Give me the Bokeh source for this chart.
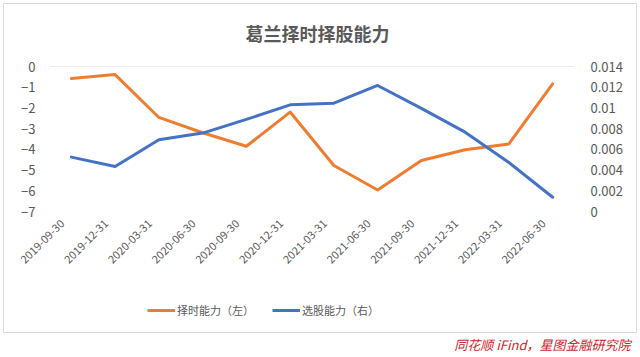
from bokeh.plotting import figure
from bokeh.layouts import column
from bokeh.models import (Range1d, LinearAxis, FixedTicker, CustomJSTickFormatter, Span,
                          Legend, LegendItem, Label)
from bokeh.embed import file_html
from bokeh.resources import INLINE
import math

title_text = "葛兰择时择股能力"
source_text = "同花顺 iFind，星图金融研究院"
categories = ["2019-09-30", "2019-12-31", "2020-03-31", "2020-06-30", "2020-09-30", "2020-12-31",
              "2021-03-31", "2021-06-30", "2021-09-30", "2021-12-31", "2022-03-31", "2022-06-30"]
timing = [-0.58, -0.39, -2.46, -3.2, -3.85, -2.2, -4.78, -5.96, -4.54, -4.02, -3.74, -0.84]
stock = [0.00525, 0.00435, 0.00693, 0.00757, 0.00889, 0.0103, 0.01046, 0.01217, 0.00995,
         0.00766, 0.00473, 0.00138]
left_ticks = [-7, -6, -5, -4, -3, -2, -1, 0]
right_ticks = [0, 0.002, 0.004, 0.006, 0.008, 0.01, 0.012, 0.014]
name_timing = "择时能力（左）"
name_stock = "选股能力（右）"

ORANGE = "#ED7D31"
BLUE = "#4472C4"
GRAY = "#595959"
CJK = "Noto Sans CJK SC"

W = 640
H_TITLE, H_MAIN, H_LEG, H_SRC = 56, 234, 46, 21
FL, FR = 49, 574
FT, FB = 10, 155          # frame top / bottom inside the main figure
n = len(categories)
xs = [i + 0.5 for i in range(n)]  # centre of each category slot
unit_px = (FR - FL) / n
shift = 9 / unit_px


def strip(h, x0=0, x1=W):
    f = figure(width=W, height=h, x_range=Range1d(x0, x1), y_range=Range1d(0, h),
               output_backend="svg", toolbar_location=None, x_axis_location=None,
               y_axis_location=None, min_border=0)
    f.outline_line_color = None
    f.xgrid.visible = False
    f.ygrid.visible = False
    f.background_fill_alpha = 0
    f.border_fill_alpha = 0
    return f


# ---- title strip (its frame is aligned with the main chart's frame by the column)
ft = strip(H_TITLE, FL, FR)
ft.add_layout(Label(x=317, y=H_TITLE - 32, text=title_text, text_font=CJK, text_font_size="18px",
                    text_font_style="bold", text_color=GRAY, text_align="center",
                    text_baseline="middle"))

# ---- main chart
p = figure(width=W, height=H_MAIN, x_range=Range1d(0, n), y_range=Range1d(-7, 0),
           output_backend="svg", toolbar_location=None,
           min_border_left=FL, min_border_right=W - FR, min_border_top=FT,
           min_border_bottom=H_MAIN - FB, x_axis_location=None)
p.outline_line_color = None
p.background_fill_alpha = 0
p.border_fill_alpha = 0
p.xgrid.visible = False
p.ygrid.visible = False

p.extra_y_ranges = {"right": Range1d(0, 0.014)}
p.extra_x_ranges = {"labels": Range1d(shift, n + shift)}

p.line(xs, timing, line_color=ORANGE, line_width=3, line_join="round", line_cap="round")
p.line(xs, stock, line_color=BLUE, line_width=3, line_join="round", line_cap="round",
       y_range_name="right")

p.add_layout(Span(location=0, dimension="width", line_color="#d9d9d9", line_width=1), "center")

yl = p.yaxis[0]
yl.ticker = FixedTicker(ticks=left_ticks)
yl.axis_line_color = None
yl.major_tick_line_color = None
yl.minor_tick_line_color = None
yl.major_label_standoff = 8
yl.major_label_text_font = CJK
yl.major_label_text_font_size = "13px"
yl.major_label_text_color = GRAY

yr = LinearAxis(y_range_name="right", ticker=FixedTicker(ticks=right_ticks),
                formatter=CustomJSTickFormatter(code="return String(+tick.toFixed(4));"))
yr.axis_line_color = None
yr.major_tick_line_color = None
yr.minor_tick_line_color = None
yr.major_label_standoff = 10
yr.major_label_text_font = CJK
yr.major_label_text_font_size = "13px"
yr.major_label_text_color = GRAY
p.add_layout(yr, "right")

xa = LinearAxis(x_range_name="labels", ticker=FixedTicker(ticks=xs),
                major_label_overrides={t: c for t, c in zip(xs, categories)})
xa.axis_line_color = None
xa.major_tick_line_color = None
xa.minor_tick_line_color = None
xa.major_label_orientation = math.pi / 4
xa.major_label_standoff = 4
xa.major_label_text_font = CJK
xa.major_label_text_font_size = "11px"
xa.major_label_text_color = GRAY
p.add_layout(xa, "below")

# ---- legend strip: proxy renderers of the real series, mapped off the visible frame
fl = strip(H_LEG, FL, FR)
fl.extra_y_ranges = {"off": Range1d(100, 200)}
l1 = fl.line(xs, timing, line_color=ORANGE, line_width=3, y_range_name="off")
l2 = fl.line(xs, stock, line_color=BLUE, line_width=3, y_range_name="off")
legend = Legend(items=[LegendItem(label=name_timing, renderers=[l1]),
                       LegendItem(label=name_stock, renderers=[l2])],
                orientation="horizontal", location=(147 - FL, 16),
                label_text_font=CJK, label_text_font_size="11px", label_text_color=GRAY,
                glyph_width=28, spacing=18, padding=0, margin=0, label_standoff=2,
                border_line_color=None, background_fill_alpha=0)
fl.add_layout(legend, "center")

# ---- source strip
fs = strip(H_SRC)
fs.add_layout(Label(x=630, y=H_SRC - 8, text=source_text, text_font=CJK, text_font_size="13px",
                    text_font_style="italic", text_color="#C8282D", text_align="right",
                    text_baseline="middle"))

box = column(ft, p, fl, width=W, spacing=0,
             styles={"outline": "1px solid #d9d9d9", "outline-offset": "-4px",
                     "background-color": "white"})
layout = column(box, fs, width=W, spacing=0, styles={"background-color": "white"})

open("out.html", "w").write(file_html(layout, INLINE))
